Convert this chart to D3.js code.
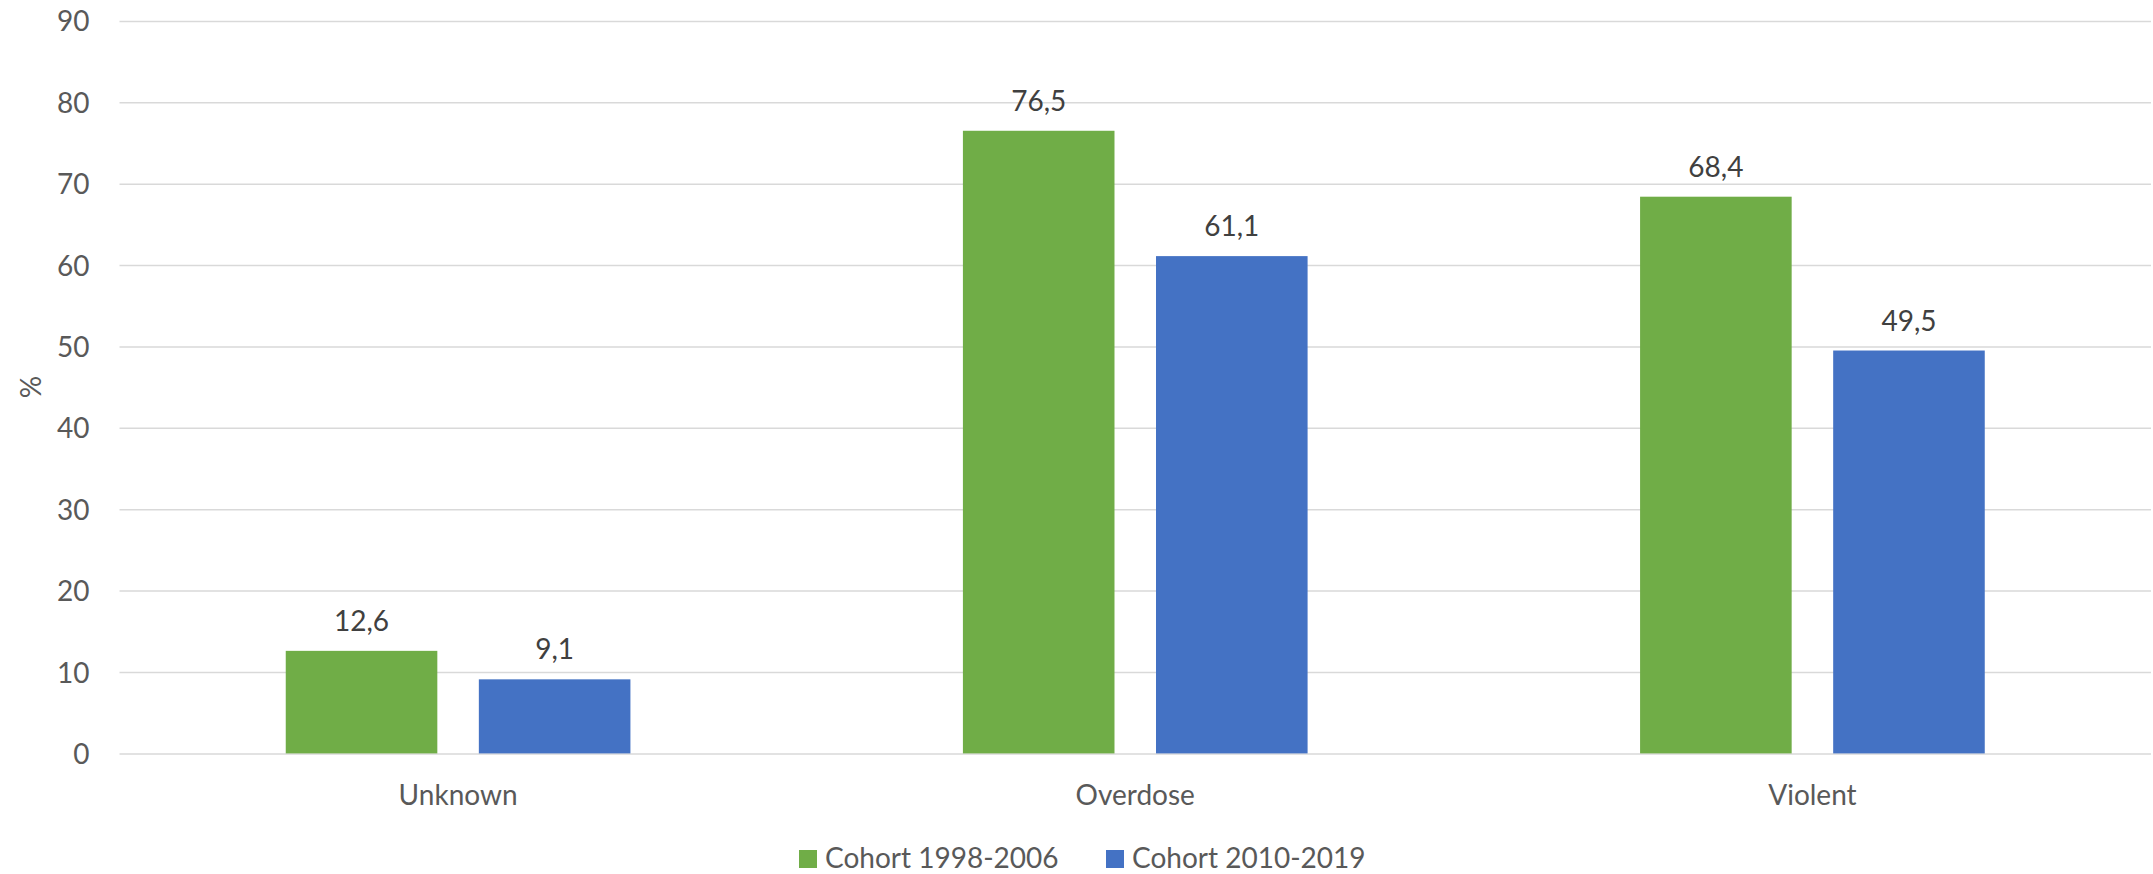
<!DOCTYPE html>
<html>
<head>
<meta charset="utf-8">
<script src="https://cdn.jsdelivr.net/npm/d3@7"></script>
<style>
  html, body { margin: 0; padding: 0; background: #fff; }
  svg { display: block; }
  text { font-family: Lato, "Open Sans", sans-serif; }
</style>
</head>
<body>
<svg id="chart" width="2153" height="874"></svg>
<script>
const categories = ["Unknown", "Overdose", "Violent"];
const seriesNames = ["Cohort 1998-2006", "Cohort 2010-2019"];
const cohort1998 = [12.6, 76.5, 68.4];
const cohort2010 = [9.1, 61.1, 49.5];
const seriesColors = ["#70AD47", "#4472C4"];
const yTicks = [0, 10, 20, 30, 40, 50, 60, 70, 80, 90];
const yTitle = "%";

const seriesValues = [cohort1998, cohort2010];
const data = categories.map((c, i) => ({
  category: c,
  values: seriesNames.map((s, j) => ({ series: s, value: seriesValues[j][i], idx: j }))
}));

const W = 2153, H = 874;
const plot = { left: 119.5, right: 2151, top: 20.9, bottom: 753.4 };
const svg = d3.select("#chart");
const FS = 28;

const y = d3.scaleLinear().domain([0, 90]).range([plot.bottom, plot.top]);
const x0 = d3.scaleBand().domain(categories).range([plot.left, plot.right]).paddingInner(0).paddingOuter(0);
const bw = x0.bandwidth();
const groupW = bw * 0.509; // two bars + gap
const x1 = d3.scaleBand().domain(seriesNames)
  .range([(bw - groupW) / 2, (bw + groupW) / 2])
  .paddingInner(0.215).paddingOuter(0);

// gridlines
const grid = d3.axisLeft(y).tickValues(yTicks).tickSize(-(plot.right - plot.left)).tickFormat("");
svg.append("g")
  .attr("transform", `translate(${plot.left},0)`)
  .call(grid)
  .call(g => g.select(".domain").remove())
  .call(g => g.selectAll("line").attr("stroke", "#D9D9D9").attr("stroke-width", 1.5));

// y tick labels
const yAxis = d3.axisLeft(y).tickValues(yTicks).tickSize(0).tickPadding(0).tickFormat(d3.format("d"));
svg.append("g")
  .attr("transform", `translate(89.5,0)`)
  .call(yAxis)
  .call(g => g.select(".domain").remove())
  .call(g => g.selectAll("text")
    .attr("font-family", "Lato, 'Open Sans', sans-serif")
    .attr("font-size", FS)
    .attr("fill", "#595959")
    .attr("dy", "0.36em"));

// y title
svg.append("text")
  .attr("transform", `translate(41,${(plot.top + plot.bottom) / 2}) rotate(-90)`)
  .attr("text-anchor", "middle")
  .attr("font-size", FS)
  .attr("fill", "#595959")
  .text(yTitle);

// x category labels
const xAxis = d3.axisBottom(x0).tickSize(0).tickPadding(0);
svg.append("g")
  .attr("transform", `translate(0,${plot.bottom})`)
  .call(xAxis)
  .call(g => g.select(".domain").remove())
  .call(g => g.selectAll("text")
    .attr("font-family", "Lato, 'Open Sans', sans-serif")
    .attr("font-size", FS)
    .attr("fill", "#595959")
    .attr("y", 52)
    .attr("dy", 0));

// bars
const groups = svg.append("g").selectAll("g")
  .data(data).join("g")
  .attr("transform", d => `translate(${x0(d.category)},0)`);

groups.selectAll("rect")
  .data(d => d.values).join("rect")
  .attr("x", d => x1(d.series))
  .attr("width", x1.bandwidth())
  .attr("y", d => y(d.value))
  .attr("height", d => y(0) - y(d.value))
  .attr("fill", d => seriesColors[d.idx]);

groups.selectAll("text.val")
  .data(d => d.values).join("text")
  .attr("class", "val")
  .attr("x", d => x1(d.series) + x1.bandwidth() / 2)
  .attr("y", d => y(d.value) - 20)
  .attr("text-anchor", "middle")
  .attr("font-size", FS)
  .attr("fill", "#404040")
  .text(d => d3.format(".1f")(d.value).replace(".", ","));

// legend
const legendItems = [
  { name: seriesNames[0], color: seriesColors[0], x: 799 },
  { name: seriesNames[1], color: seriesColors[1], x: 1106 }
];
const lg = svg.append("g").selectAll("g").data(legendItems).join("g")
  .attr("transform", d => `translate(${d.x},0)`);
lg.append("rect").attr("x", 0).attr("y", 850).attr("width", 18).attr("height", 18).attr("fill", d => d.color);
lg.append("text").attr("x", 26).attr("y", 868)
  .attr("font-size", FS).attr("fill", "#595959")
  .text(d => d.name);
</script>
</body>
</html>
